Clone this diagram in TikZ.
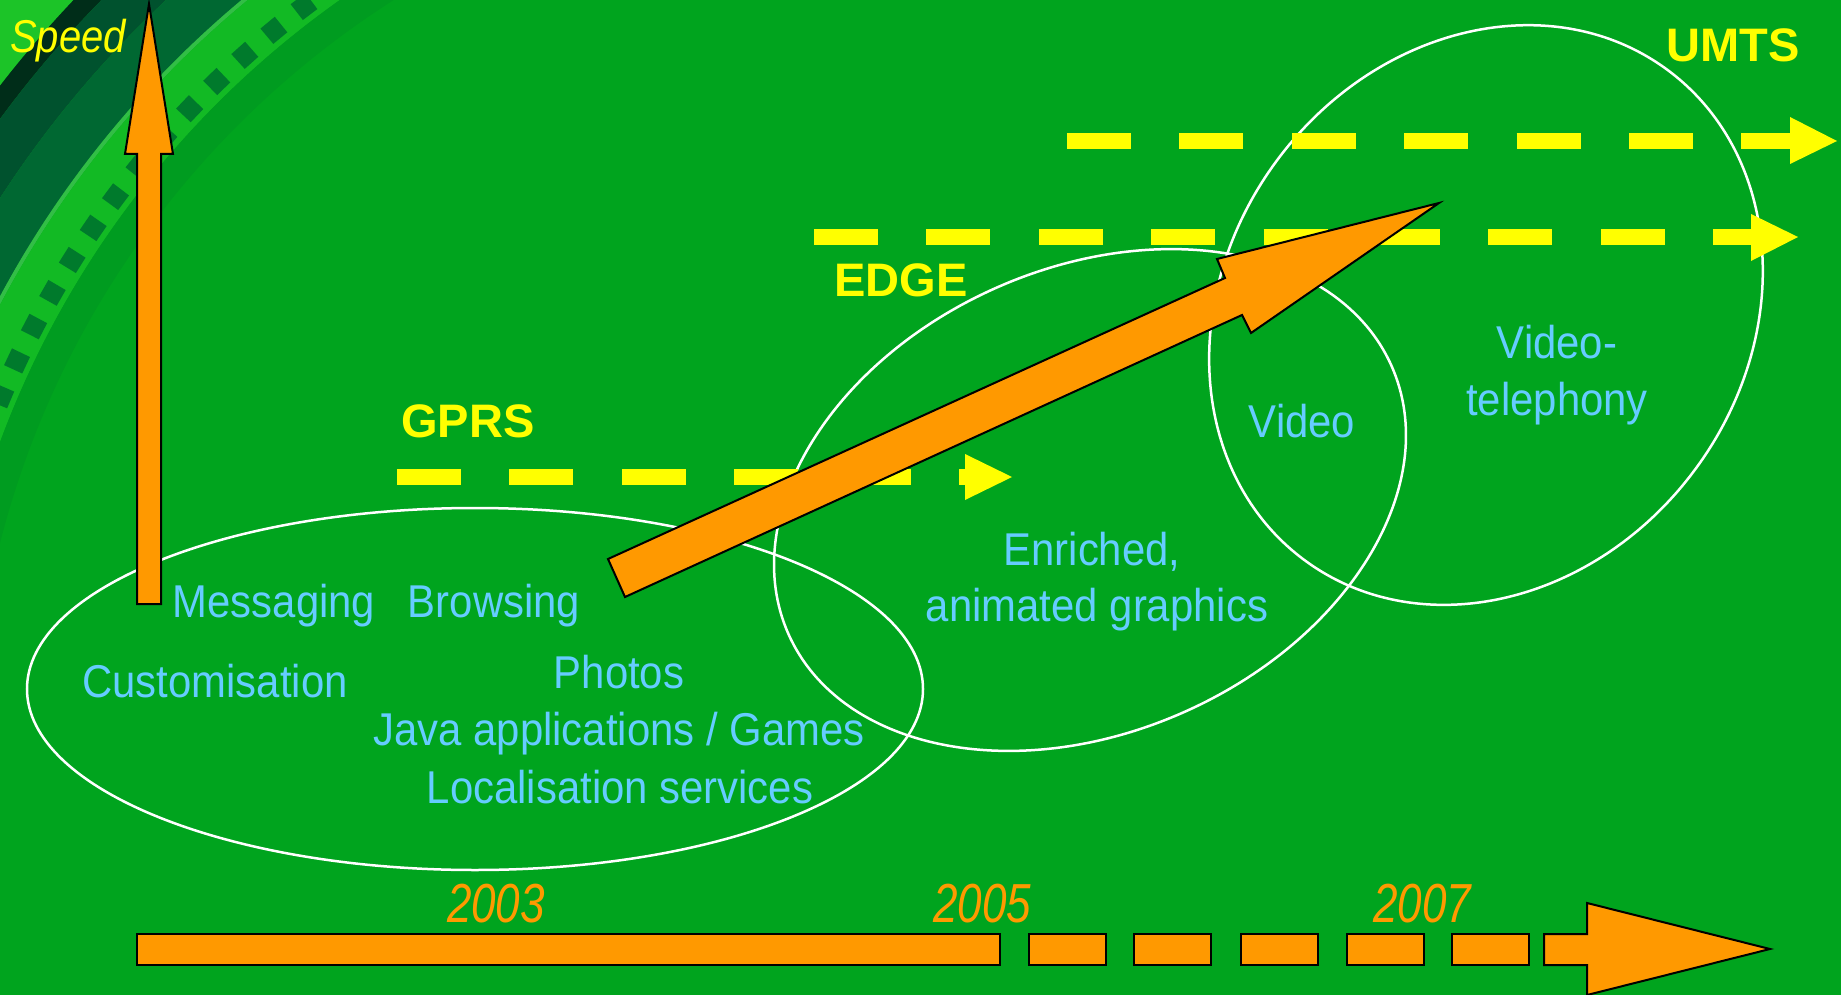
\documentclass[tikz,border=0pt]{standalone}
\usepackage{fontspec}
\setmainfont{Liberation Sans}
\newfontfamily\bodyfont[FakeStretch=0.91]{Liberation Sans}
\newfontfamily\speedfont[FakeStretch=0.87]{Liberation Sans}
\newfontfamily\yearfont[FakeStretch=0.80]{Liberation Sans}
\definecolor{bg}{RGB}{0,164,30}
\definecolor{lblue}{RGB}{102,204,255}
\definecolor{orng}{RGB}{255,153,0}
\definecolor{yel}{RGB}{255,255,0}
\definecolor{decbright}{RGB}{28,196,40}
\definecolor{decblack}{RGB}{0,45,25}
\definecolor{decdarkA}{RGB}{0,82,46}
\definecolor{decdarkB}{RGB}{0,104,50}
\definecolor{decline}{RGB}{50,190,70}
\definecolor{decband}{RGB}{18,186,36}
\definecolor{decmid}{RGB}{0,156,32}
\definecolor{decsq}{RGB}{0,122,44}
\tikzset{
  item/.style={text=lblue, font=\bodyfont\fontsize{46}{50}\selectfont, inner sep=0pt, anchor=base},
  tech/.style={text=yel, font=\bfseries\fontsize{47}{50}\selectfont, inner sep=0pt, anchor=base},
  year/.style={text=orng, font=\yearfont\itshape\fontsize{55}{60}\selectfont, inner sep=0pt, anchor=base},
  oval/.style={draw=white, line width=2.5pt},
  ydash/.style={draw=yel, line width=16pt, dash pattern=on 64pt off 48.4pt},
  yhead/.style={fill=yel},
  oarrow/.style={fill=orng, draw=black, line width=2pt, line join=miter},
}
\begin{document}
\begin{tikzpicture}[x=1pt,y=-1pt]
\useasboundingbox (0,0) rectangle (1841,995);
\fill[bg] (0,0) rectangle (1841,995);
% decorative arcs, top-left corner
\coordinate (dc) at (882,768);
\begin{scope}
  \clip (0,0) rectangle (880,760);
  \fill[decbright, even odd rule] (dc) circle[radius=1400pt] (dc) circle[radius=1115pt];
  \fill[decblack, even odd rule] (dc) circle[radius=1115pt] (dc) circle[radius=1095pt];
  \fill[decdarkA, even odd rule] (dc) circle[radius=1095pt] (dc) circle[radius=1050pt];
  \fill[decdarkB, even odd rule] (dc) circle[radius=1050pt] (dc) circle[radius=1000pt];
  \fill[decline, even odd rule] (dc) circle[radius=1000pt] (dc) circle[radius=996pt];
  \fill[decband, even odd rule] (dc) circle[radius=996pt] (dc) circle[radius=940pt];
  \fill[decmid, even odd rule] (dc) circle[radius=940pt] (dc) circle[radius=910pt];
  \foreach \a in {-118,-120.3,...,-172} {
    \fill[decsq] ([shift={(\a-0.55:946)}]dc) -- ([shift={(\a+0.55:946)}]dc)
      -- ([shift={(\a+0.55:966)}]dc) -- ([shift={(\a-0.55:966)}]dc) -- cycle;
  }
\end{scope}
% ellipses
\coordinate (gc) at (475,689);
\coordinate (ec) at (1090,500);
\coordinate (uc) at (1486,315);
\draw[oval] (gc) ellipse [x radius=448pt, y radius=181pt];
\draw[oval, rotate around={24:(ec)}] (ec) ellipse [x radius=330pt, y radius=232pt];
\draw[oval, rotate around={53.4:(uc)}] (uc) ellipse [x radius=305pt, y radius=260pt];
% yellow dashed arrows
\coordinate (g0) at (397,477); \coordinate (g1) at (965,477);
\draw[ydash] (g0) -- (g1);
\fill[yhead] (965,454) -- (1012,477) -- (965,500) -- cycle;
\coordinate (e0) at (814,237); \coordinate (e1) at (1751,237);
\draw[ydash] (e0) -- (e1);
\fill[yhead] (1751,214) -- (1798,237) -- (1751,261) -- cycle;
\coordinate (u0) at (1067,141); \coordinate (u1) at (1790,141);
\draw[ydash] (u0) -- (u1);
\fill[yhead] (1790,117) -- (1837,141) -- (1790,164) -- cycle;
% speed arrow
\draw[oarrow] (137,604) -- (137,154) -- (125,154) -- (149,4) -- (173,154) -- (161,154) -- (161,604) -- cycle;
% big arrow
\draw[oarrow] (608,559) -- (1225,278) -- (1217,259) -- (1439,203) -- (1251,333) -- (1242,315) -- (625,597) -- cycle;
% time axis
\draw[oarrow] (137,934) rectangle (1000,965);
\foreach \s in {1029,1134,1241,1347,1452} {
  \draw[oarrow] (\s,934) rectangle (\s+77,965);
}
\draw[oarrow] (1544,934) -- (1587,934) -- (1587,903) -- (1770,949) -- (1587,995) -- (1587,965) -- (1544,965) -- cycle;
% labels
\node[text=yel, font=\speedfont\itshape\fontsize{46}{50}\selectfont, inner sep=0pt, anchor=base] (speed) at (68,53) {Speed};
\node[tech] (gprs) at (468,437) {GPRS};
\node[tech] (edge) at (901,296) {EDGE};
\node[tech] (umts) at (1733,62) {UMTS};
\node[item] (msg) at (274,617) {Messaging};
\node[item] (brw) at (494,617) {Browsing};
\node[item] (cus) at (215,697) {Customisation};
\node[item] (pho) at (619,688) {Photos};
\node[item] (java) at (619,745) {Java applications / Games};
\node[item] (loc) at (620,803) {Localisation services};
\node[item] (enr) at (1092,565) {Enriched,};
\node[item] (ani) at (1097,621) {animated graphics};
\node[item] (vid) at (1302,437) {Video};
\node[item] (vt1) at (1557,358) {Video-};
\node[item] (vt2) at (1557,415) {telephony};
\node[year] (y3) at (496,922) {2003};
\node[year] (y5) at (982,922) {2005};
\node[year] (y7) at (1422,922) {2007};
\end{tikzpicture}
\end{document}
